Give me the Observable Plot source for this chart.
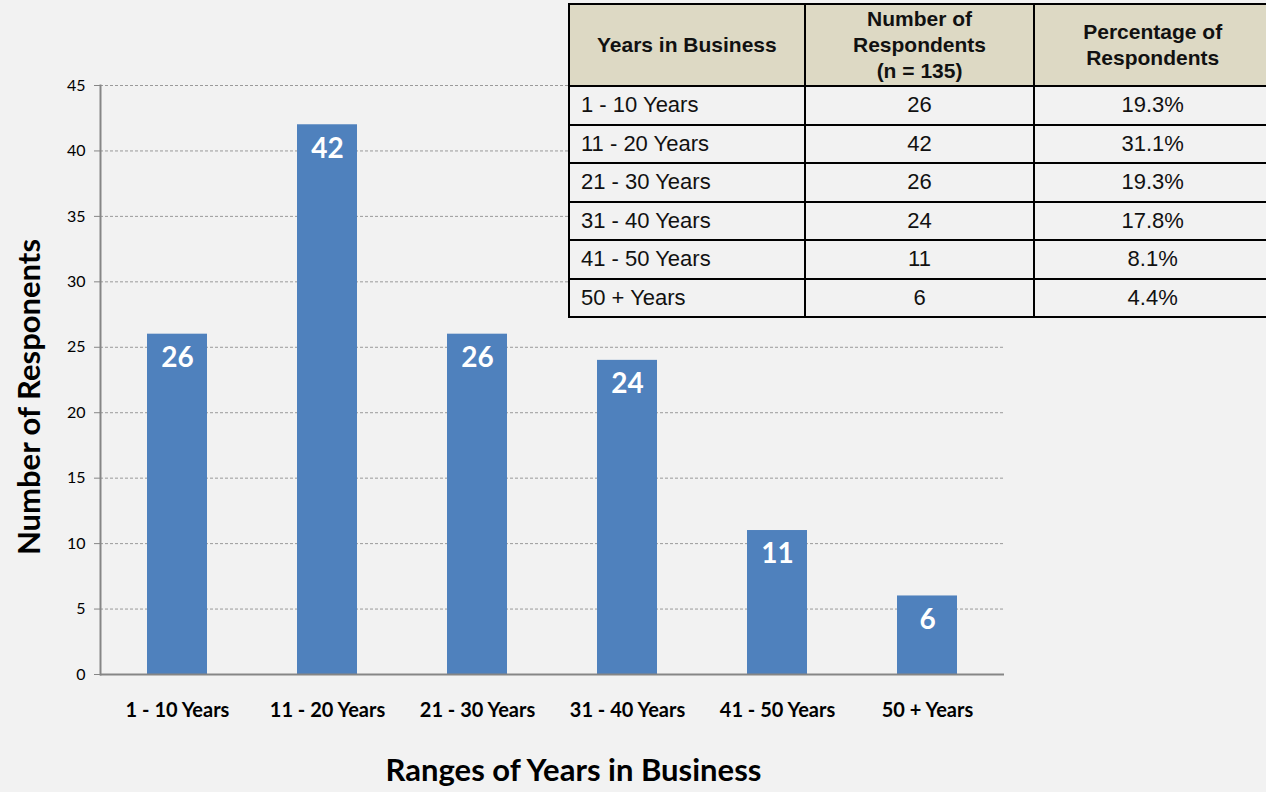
<!DOCTYPE html>
<html>
<head>
<meta charset="utf-8">
<script src="https://cdn.jsdelivr.net/npm/d3@7"></script>
<script src="https://cdn.jsdelivr.net/npm/@observablehq/plot@0.6"></script>
<style>
  html, body { margin: 0; padding: 0; background: #f2f2f2; }
  #wrap { position: relative; width: 1266px; height: 792px; overflow: hidden; }
  #chart svg { display: block; }
  table.tbl {
    position: absolute; left: 568px; top: 3px; width: 704px;
    border-collapse: collapse; font-family: "Liberation Sans", Arial, sans-serif;
    background: #f2f2f2; color: #111;
  }
  table.tbl th, table.tbl td { border: 2px solid #000; padding: 0; }
  table.tbl th { background: #ddd9c4; font-weight: bold; font-size: 21px; line-height: 26px; height: 80px; text-align: center; }
  table.tbl td { font-size: 22px; height: 36.5px; text-align: center; }
  table.tbl td.first { text-align: left; padding-left: 11px; }
</style>
</head>
<body>
<div id="wrap">
  <div id="chart"></div>
  <table class="tbl" id="tbl"></table>
</div>
<script>
const categories = ["1 - 10 Years", "11 - 20 Years", "21 - 30 Years", "31 - 40 Years", "41 - 50 Years", "50 + Years"];
const respondents = [26, 42, 26, 24, 11, 6];
const percentages = ["19.3%", "31.1%", "19.3%", "17.8%", "8.1%", "4.4%"];
const yTicks = [0, 5, 10, 15, 20, 25, 30, 35, 40, 45];
const tableHeaders = ["Years in Business", "Number of<br>Respondents<br>(n = 135)", "Percentage of<br>Respondents"];
const xTitle = "Ranges of Years in Business";
const yTitle = "Number of Responents";

const data = categories.map((c, i) => ({category: c, value: respondents[i]}));
const font = "Lato, 'Open Sans', sans-serif";

const chart = Plot.plot({
  width: 1266,
  height: 792,
  marginLeft: 100,
  marginRight: 262,
  marginTop: 85,
  marginBottom: 118,
  style: {background: "#f2f2f2", fontFamily: font, color: "#000"},
  x: {domain: categories, paddingInner: 0.6, paddingOuter: 0.3, label: null},
  y: {domain: [0, 45], label: null},
  marks: [
    Plot.gridY(yTicks, {stroke: "#9a9a9a", strokeOpacity: 1, strokeDasharray: "3,2"}),
    Plot.barY(data, {x: "category", y: "value", fill: "#4f81bd"}),
    Plot.ruleY([0], {stroke: "#868686", strokeWidth: 2}),
    Plot.frame({anchor: "left", stroke: "#868686", strokeWidth: 2}),
    Plot.axisY(yTicks, {tickSize: 6, tickPadding: 9, fontSize: 16, stroke: "#868686", fill: "#000", label: null}),
    Plot.axisX({tickSize: 0, tickPadding: 28, fontSize: 20, fontWeight: "bold", fill: "#000", label: null}),
    Plot.text(data, {x: "category", y: "value", text: d => String(d.value), dy: 24, fill: "white", fontWeight: "bold", fontSize: 28}),
    Plot.text([xTitle], {frameAnchor: "bottom", dy: 106, dx: 21, fontSize: 31, fontWeight: "bold", fill: "#000"}),
    Plot.text([yTitle], {frameAnchor: "left", textAnchor: "middle", rotate: -90, dx: -70, dy: 17, fontSize: 31, fontWeight: "bold", fill: "#000"})
  ]
});
document.getElementById("chart").appendChild(chart);

const tbl = document.getElementById("tbl");
const widths = [237, 230, 237];
let html = "<tr>" + tableHeaders.map((h, i) => `<th style="width:${widths[i]}px">${h}</th>`).join("") + "</tr>";
categories.forEach((c, i) => {
  html += `<tr><td class="first">${c}</td><td>${respondents[i]}</td><td>${percentages[i]}</td></tr>`;
});
tbl.innerHTML = html;
</script>
</body>
</html>
